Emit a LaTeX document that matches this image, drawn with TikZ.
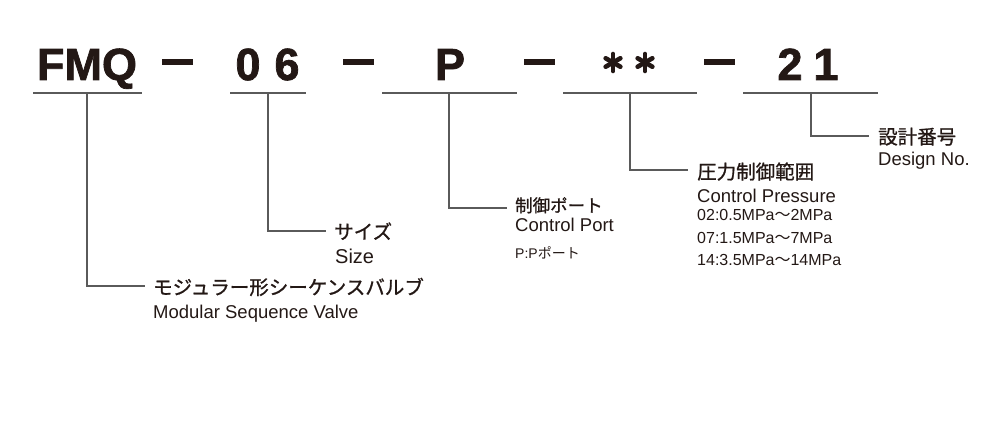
\documentclass[tikz,border=0pt]{standalone}
\usepackage{fontspec}
\usetikzlibrary{calc}
\setmainfont{Liberation Sans}
\newfontfamily\jp{Noto Sans CJK JP}
\newfontfamily\jpm[FakeBold=1.0]{Noto Sans CJK JP}
\newfontfamily\heavy[FakeBold=1.6]{Liberation Sans}
\definecolor{ink}{HTML}{231815}
\definecolor{lin}{HTML}{5A5A5A}
\begin{document}
\begin{tikzpicture}[x=1pt,y=-1pt,
  title/.style={inner sep=0pt,anchor=base,font=\heavy\bfseries\fontsize{45}{45}\selectfont,text=ink},
  sep/.style={fill=ink,draw=none},
  star/.style={draw=ink,line width=4.6pt,line cap=round},
  uline/.style={draw=lin,line width=2pt},
  conn/.style={draw=lin,line width=1.5pt},
  jplab/.style={inner sep=0pt,anchor=base west,font=\jpm\fontsize{19.5}{19.5}\selectfont,text=ink},
  enlab/.style={inner sep=0pt,anchor=base west,font=\fontsize{18.5}{18.5}\selectfont,text=ink},
  smlab/.style={inner sep=0pt,anchor=base west,font=\fontsize{16}{16}\selectfont,text=ink}]
\useasboundingbox (0,0) rectangle (990,428);
% title
\node[title] (fmq) at (87,80) {FMQ};
\node[title] (d0) at (248,80) {0};
\node[title] (d6) at (287,80) {6};
\node[title] (p) at (450,80) {P};
\node[title] (d2) at (790,80) {2};
\node[title] (d1) at (826,80) {1};
\coordinate (a1) at (613,62.5);
\coordinate (a2) at (645,62.5);
\foreach \c in {a1,a2}{
  \foreach \ang in {90,30,150}{
    \draw[star] ($(\c)+(\ang:8.5)$) -- ($(\c)+(\ang+180:8.5)$);
  }
}
\fill[sep] (162,59.5) rectangle (193,65);
\fill[sep] (343,59.5) rectangle (374,65);
\fill[sep] (524,59.5) rectangle (555,65);
\fill[sep] (704,59.5) rectangle (735,65);
% underlines
\coordinate (u1a) at (33,93); \coordinate (u1b) at (142,93);
\coordinate (u2a) at (230,93); \coordinate (u2b) at (306,93);
\coordinate (u3a) at (382,93); \coordinate (u3b) at (517,93);
\coordinate (u4a) at (563,93); \coordinate (u4b) at (697,93);
\coordinate (u5a) at (743,93); \coordinate (u5b) at (878,93);
\draw[uline] (u1a) -- (u1b);
\draw[uline] (u2a) -- (u2b);
\draw[uline] (u3a) -- (u3b);
\draw[uline] (u4a) -- (u4b);
\draw[uline] (u5a) -- (u5b);
% connectors
\coordinate (t1) at (87,94); \coordinate (e1) at (145,286);
\coordinate (t2) at (268,94); \coordinate (e2) at (326,231);
\coordinate (t3) at (449,94); \coordinate (e3) at (507,208);
\coordinate (t4) at (630,94); \coordinate (e4) at (688,170);
\coordinate (t5) at (811,94); \coordinate (e5) at (869,136);
\draw[conn] (t1) |- (e1);
\draw[conn] (t2) |- (e2);
\draw[conn] (t3) |- (e3);
\draw[conn] (t4) |- (e4);
\draw[conn] (t5) |- (e5);
% labels
\node[jplab] (l1j) at (153,294.5) {モジュラー形シーケンスバルブ};
\node[enlab] (l1e) at (153,318) {Modular Sequence Valve};
\node[jplab] (l2j) at (334,239) {サイズ};
\node[enlab,font=\fontsize{20}{20}\selectfont] (l2e) at (335,263) {Size};
\node[jplab,font=\jpm\fontsize{17.5}{17.5}\selectfont] (l3j) at (515,212) {制御ポート};
\node[enlab] (l3e) at (515,231) {Control Port};
\node[smlab,font=\fontsize{14}{14}\selectfont] (l3s) at (515,258) {P:P{\jp ポート}};
\node[jplab] (l4j) at (697,179) {圧力制御範囲};
\node[enlab] (l4e) at (697,202) {Control Pressure};
\node[smlab] (l4a) at (697,220) {02:0.5MPa{\jp ～}2MPa};
\node[smlab] (l4b) at (697,243) {07:1.5MPa{\jp ～}7MPa};
\node[smlab] (l4c) at (697,265) {14:3.5MPa{\jp ～}14MPa};
\node[jplab] (l5j) at (878,144) {設計番号};
\node[enlab] (l5e) at (878,165) {Design No.};
\end{tikzpicture}
\end{document}
